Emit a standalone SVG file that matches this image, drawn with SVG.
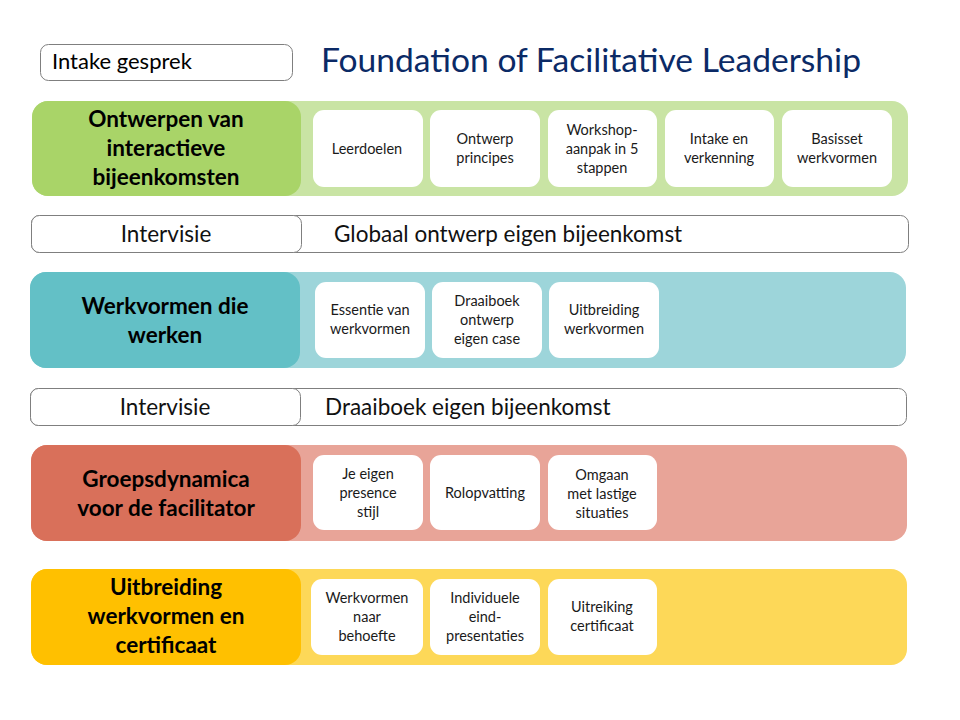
<svg xmlns="http://www.w3.org/2000/svg" width="960" height="720" viewBox="0 0 960 720">
<style>
text{font-family:Lato,"Open Sans","Liberation Sans",sans-serif;fill:#000}
.title{font-size:32px;fill:#0b2a66}
.h{font-size:22.5px;font-weight:bold;text-anchor:middle}
.s{font-size:14.5px;text-anchor:middle;fill:#1a1a1a}
.iv{font-size:22.5px;fill:#111}
.ivc{text-anchor:middle}
.card{fill:#fff}
.frame{fill:#fff;stroke:#7f7f7f;stroke-width:1}
</style>
<rect width="960" height="720" fill="#fff"/>
<g id="intake">
<rect class="frame" x="40.5" y="44.5" width="252" height="36" rx="8"/>
<text x="52" y="69" style="font-size:22px">Intake gesprek</text>
</g>
<text class="title" x="321" y="72" textLength="540" lengthAdjust="spacingAndGlyphs">Foundation of Facilitative Leadership</text>

<g id="band1">
<rect x="32" y="101" width="876" height="95" rx="16" fill="#c9e4a4"/>
<rect x="32" y="101" width="269" height="95" rx="16" fill="#a9d468"/>
<text class="h" x="166" y="127">Ontwerpen van</text>
<text class="h" x="166" y="156">interactieve</text>
<text class="h" x="166" y="185">bijeenkomsten</text>
<rect class="card" x="313" y="110" width="110" height="77" rx="11"/>
<text class="s" x="367" y="154">Leerdoelen</text>
<rect class="card" x="430" y="110" width="110" height="77" rx="11"/>
<text class="s" x="485" y="144">Ontwerp</text><text class="s" x="485" y="163">principes</text>
<rect class="card" x="548" y="110" width="109" height="77" rx="11"/>
<text class="s" x="602" y="135">Workshop-</text><text class="s" x="602" y="154">aanpak in 5</text><text class="s" x="602" y="173">stappen</text>
<rect class="card" x="665" y="110" width="109" height="77" rx="11"/>
<text class="s" x="719" y="144">Intake en</text><text class="s" x="719" y="163">verkenning</text>
<rect class="card" x="782" y="110" width="110" height="77" rx="11"/>
<text class="s" x="837" y="144">Basisset</text><text class="s" x="837" y="163">werkvormen</text>
</g>

<g id="intervisie1">
<rect class="frame" x="31.5" y="215.5" width="877" height="37" rx="8"/>
<rect class="frame" x="31.5" y="215.5" width="270" height="37" rx="8"/>
<text class="iv ivc" x="166" y="242">Intervisie</text>
<text class="iv" x="334" y="242">Globaal ontwerp eigen bijeenkomst</text>
</g>

<g id="band2">
<rect x="30" y="272" width="876" height="96" rx="16" fill="#9dd5da"/>
<rect x="30" y="272" width="270" height="96" rx="16" fill="#63c0c6"/>
<text class="h" x="165" y="314">Werkvormen die</text>
<text class="h" x="165" y="343">werken</text>
<rect class="card" x="315" y="282" width="110" height="76" rx="11"/>
<text class="s" x="370" y="315">Essentie van</text><text class="s" x="370" y="334">werkvormen</text>
<rect class="card" x="432" y="282" width="110" height="76" rx="11"/>
<text class="s" x="487" y="306">Draaiboek</text><text class="s" x="487" y="325">ontwerp</text><text class="s" x="487" y="344">eigen case</text>
<rect class="card" x="549" y="282" width="110" height="76" rx="11"/>
<text class="s" x="604" y="315">Uitbreiding</text><text class="s" x="604" y="334">werkvormen</text>
</g>

<g id="intervisie2">
<rect class="frame" x="30.5" y="388.5" width="876" height="37" rx="8"/>
<rect class="frame" x="30.5" y="388.5" width="270" height="37" rx="8"/>
<text class="iv ivc" x="165" y="415">Intervisie</text>
<text class="iv" x="325" y="415">Draaiboek eigen bijeenkomst</text>
</g>

<g id="band3">
<rect x="31" y="445" width="876" height="96" rx="16" fill="#e8a498"/>
<rect x="31" y="445" width="270" height="96" rx="16" fill="#d9705a"/>
<text class="h" x="166" y="487">Groepsdynamica</text>
<text class="h" x="166" y="516">voor de facilitator</text>
<rect class="card" x="313" y="455" width="110" height="75" rx="11"/>
<text class="s" x="368" y="479">Je eigen</text><text class="s" x="368" y="498">presence</text><text class="s" x="368" y="517">stijl</text>
<rect class="card" x="430" y="455" width="110" height="75" rx="11"/>
<text class="s" x="485" y="498">Rolopvatting</text>
<rect class="card" x="548" y="455" width="109" height="75" rx="11"/>
<text class="s" x="602" y="480">Omgaan</text><text class="s" x="602" y="499">met lastige</text><text class="s" x="602" y="518">situaties</text>
</g>

<g id="band4">
<rect x="31" y="569" width="876" height="96" rx="16" fill="#fdd858"/>
<rect x="31" y="569" width="270" height="96" rx="16" fill="#ffc000"/>
<text class="h" x="166" y="595">Uitbreiding</text>
<text class="h" x="166" y="624">werkvormen en</text>
<text class="h" x="166" y="653">certificaat</text>
<rect class="card" x="311" y="579" width="112" height="76" rx="11"/>
<text class="s" x="367" y="603">Werkvormen</text><text class="s" x="367" y="622">naar</text><text class="s" x="367" y="641">behoefte</text>
<rect class="card" x="430" y="579" width="110" height="76" rx="11"/>
<text class="s" x="485" y="603">Individuele</text><text class="s" x="485" y="622">eind-</text><text class="s" x="485" y="641">presentaties</text>
<rect class="card" x="548" y="579" width="109" height="76" rx="11"/>
<text class="s" x="602" y="612">Uitreiking</text><text class="s" x="602" y="631">certificaat</text>
</g>
<g id="connectors"/>
</svg>
